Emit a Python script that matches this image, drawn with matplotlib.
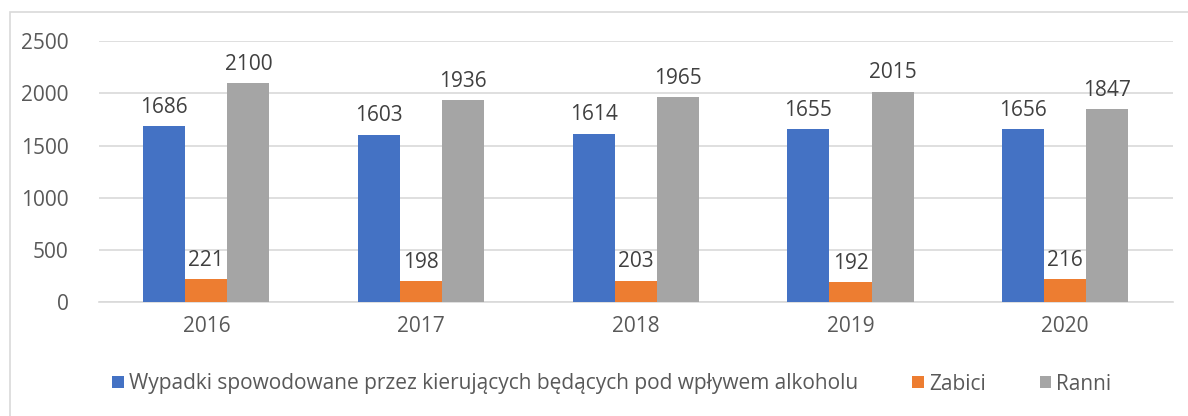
import numpy as np
import matplotlib.pyplot as plt
from matplotlib.patches import Rectangle

years = ['2016', '2017', '2018', '2019', '2020']
wypadki = [1686, 1603, 1614, 1655, 1656]
zabici = [221, 198, 203, 192, 216]
ranni = [2100, 1936, 1965, 2015, 1847]
series_names = ['Wypadki spowodowane przez kierujących będących pod wpływem alkoholu',
                'Zabici', 'Ranni']
colors = ['#4472C4', '#ED7D31', '#A5A5A5']

plt.rcParams['font.family'] = ['Open Sans', 'DejaVu Sans']

fig = plt.figure(figsize=(11.88, 4.16), dpi=100)
ax = fig.add_axes([0.0833, 0.274, 0.9037, 0.627])

# Outer chart frame
fig.patches.append(Rectangle((10 / 1188, -0.05), 1.1, 1 - 12 / 416 + 0.05,
                             transform=fig.transFigure, fill=False,
                             edgecolor='#D9D9D9', linewidth=1.2))

x = np.arange(len(years))
w = 0.196
for i, (vals, name, c) in enumerate(zip([wypadki, zabici, ranni], series_names, colors)):
    bars = ax.bar(x + (i - 1) * w, vals, w, color=c, label=name, zorder=3)
    for b, v in zip(bars, vals):
        ax.text(b.get_x() + b.get_width() / 2, v + 80, str(v), ha='center', va='bottom',
                fontsize=15, color='#404040')

ax.set_xlim(-0.5, len(years) - 0.5)
ax.set_ylim(0, 2500)
ax.set_yticks(range(0, 2501, 500))
ax.set_xticks(x)
ax.set_xticklabels(years)
ax.grid(axis='y', color='#D9D9D9', linewidth=1.2, zorder=0)
for s in ['top', 'right', 'left']:
    ax.spines[s].set_visible(False)
ax.spines['bottom'].set_color('#D9D9D9')
ax.spines['bottom'].set_linewidth(1.2)
ax.tick_params(length=0, labelsize=15, labelcolor='#595959', pad=10)
ax.tick_params(axis='y', pad=22)

leg = fig.legend(loc='center', bbox_to_anchor=(0.515, 1 - 384 / 416), ncol=3, frameon=False,
                 fontsize=15, handlelength=0.55, handleheight=0.55, handletextpad=0.25,
                 columnspacing=2.6)
for t in leg.get_texts():
    t.set_color('#595959')

fig.savefig('out.png', dpi=100)
